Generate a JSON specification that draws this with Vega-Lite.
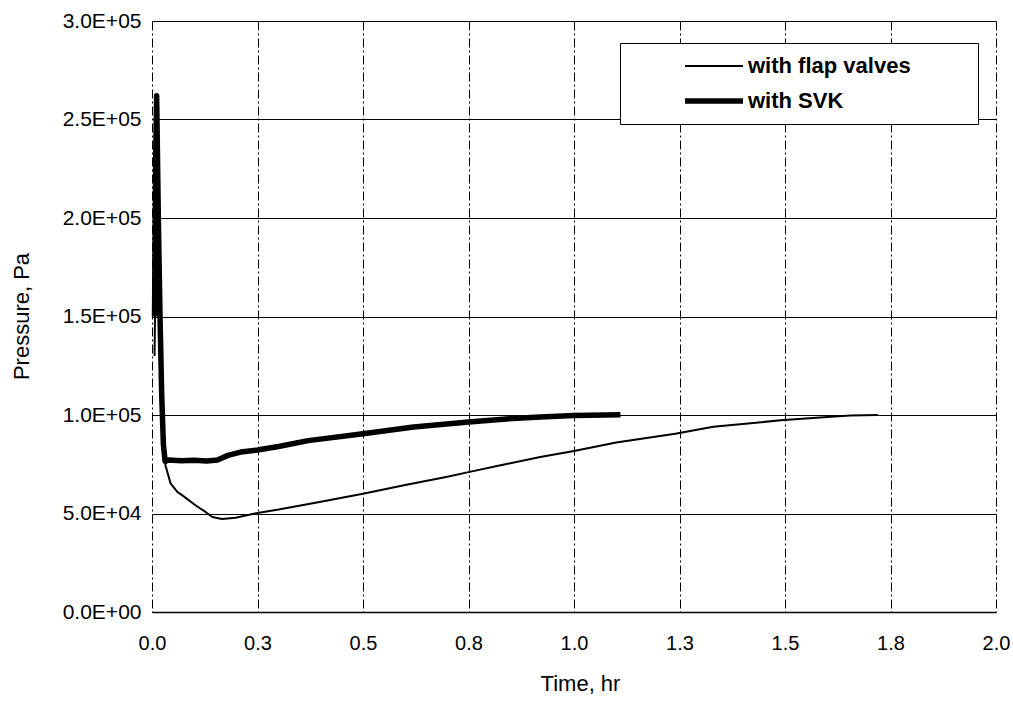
{
  "$schema": "https://vega.github.io/schema/vega-lite/v6.json",
  "width": 844,
  "height": 591,
  "autosize": {"type": "none"},
  "padding": {"left": 152, "top": 21, "right": 17, "bottom": 89},
  "background": "white",
  "config": {
    "view": {"stroke": null},
    "font": "Liberation Sans",
    "axis": {"labelFont": "Liberation Sans", "titleFont": "Liberation Sans", "labelColor": "black", "titleColor": "black", "titleFontWeight": "normal"}
  },
  "data": {
    "values": [
      {"series": "with SVK", "t": 0.006, "p": 150000},
      {"series": "with SVK", "t": 0.009, "p": 235000},
      {"series": "with SVK", "t": 0.011, "p": 262000},
      {"series": "with SVK", "t": 0.015, "p": 200000},
      {"series": "with SVK", "t": 0.019, "p": 150000},
      {"series": "with SVK", "t": 0.023, "p": 110000},
      {"series": "with SVK", "t": 0.027, "p": 85000},
      {"series": "with SVK", "t": 0.031, "p": 76500},
      {"series": "with SVK", "t": 0.04, "p": 77200},
      {"series": "with SVK", "t": 0.07, "p": 76800},
      {"series": "with SVK", "t": 0.1, "p": 77000},
      {"series": "with SVK", "t": 0.13, "p": 76700},
      {"series": "with SVK", "t": 0.155, "p": 77200},
      {"series": "with SVK", "t": 0.18, "p": 79500},
      {"series": "with SVK", "t": 0.21, "p": 81200},
      {"series": "with SVK", "t": 0.25, "p": 82200},
      {"series": "with SVK", "t": 0.3, "p": 84000},
      {"series": "with SVK", "t": 0.37, "p": 87000},
      {"series": "with SVK", "t": 0.5, "p": 90500},
      {"series": "with SVK", "t": 0.62, "p": 93900},
      {"series": "with SVK", "t": 0.75, "p": 96400},
      {"series": "with SVK", "t": 0.84, "p": 98000},
      {"series": "with SVK", "t": 0.92, "p": 99000},
      {"series": "with SVK", "t": 1.0, "p": 99700},
      {"series": "with SVK", "t": 1.11, "p": 100100},
      {"series": "with flap valves", "t": 0.006, "p": 130000},
      {"series": "with flap valves", "t": 0.01, "p": 200000},
      {"series": "with flap valves", "t": 0.013, "p": 215000},
      {"series": "with flap valves", "t": 0.018, "p": 150000},
      {"series": "with flap valves", "t": 0.023, "p": 100000},
      {"series": "with flap valves", "t": 0.028, "p": 80000},
      {"series": "with flap valves", "t": 0.032, "p": 74400},
      {"series": "with flap valves", "t": 0.044, "p": 65300},
      {"series": "with flap valves", "t": 0.06, "p": 61000},
      {"series": "with flap valves", "t": 0.072, "p": 59200},
      {"series": "with flap valves", "t": 0.103, "p": 54200},
      {"series": "with flap valves", "t": 0.127, "p": 50800},
      {"series": "with flap valves", "t": 0.143, "p": 48200},
      {"series": "with flap valves", "t": 0.166, "p": 47200},
      {"series": "with flap valves", "t": 0.198, "p": 47800},
      {"series": "with flap valves", "t": 0.25, "p": 50300},
      {"series": "with flap valves", "t": 0.3, "p": 52000},
      {"series": "with flap valves", "t": 0.4, "p": 56000},
      {"series": "with flap valves", "t": 0.5, "p": 60000},
      {"series": "with flap valves", "t": 0.6, "p": 64500},
      {"series": "with flap valves", "t": 0.7, "p": 68700},
      {"series": "with flap valves", "t": 0.75, "p": 71000},
      {"series": "with flap valves", "t": 0.826, "p": 74500},
      {"series": "with flap valves", "t": 0.92, "p": 78700},
      {"series": "with flap valves", "t": 1.0, "p": 81700},
      {"series": "with flap valves", "t": 1.1, "p": 86000},
      {"series": "with flap valves", "t": 1.24, "p": 90500},
      {"series": "with flap valves", "t": 1.33, "p": 94000},
      {"series": "with flap valves", "t": 1.49, "p": 97300},
      {"series": "with flap valves", "t": 1.6, "p": 99000},
      {"series": "with flap valves", "t": 1.655, "p": 99800},
      {"series": "with flap valves", "t": 1.72, "p": 100000}
    ]
  },
  "mark": {"type": "line", "color": "black", "strokeJoin": "round"},
  "encoding": {
    "x": {
      "field": "t", "type": "quantitative",
      "scale": {"domain": [0, 2], "nice": false, "zero": false},
      "axis": {
        "title": "Time, hr",
        "titleFontSize": 22,
        "titleBaseline": "alphabetic",
        "titleY": 78,
        "titleX": 428,
        "values": [0, 0.25, 0.5, 0.75, 1, 1.25, 1.5, 1.75, 2],
        "labelExpr": "format(datum.value, '.1f')",
        "labelFontSize": 20,
        "labelPadding": 21,
        "ticks": false,
        "domain": true,
        "domainColor": "black",
        "domainWidth": 1.5,
        "grid": true,
        "gridColor": "black",
        "gridOpacity": 1,
        "gridWidth": 1,
        "gridDash": [9, 3, 2, 3],
        "labelFlush": false
      }
    },
    "y": {
      "field": "p", "type": "quantitative",
      "scale": {"domain": [0, 300000], "nice": false},
      "axis": {
        "title": "Pressure, Pa",
        "titleFontSize": 22,
        "titleBaseline": "alphabetic",
        "titleAngle": -90,
        "titleX": -124,
        "titleY": 295,
        "values": [0, 50000, 100000, 150000, 200000, 250000, 300000],
        "labelExpr": "datum.value == 0 ? '0.0E+00' : datum.value < 100000 ? format(datum.value / 10000, '.1f') + 'E+04' : format(datum.value / 100000, '.1f') + 'E+05'",
        "labelFontSize": 21,
        "labelPadding": 11,
        "ticks": false,
        "domain": false,
        "grid": true,
        "gridColor": "black",
        "gridOpacity": 1,
        "gridWidth": 1.2,
        "labelFlush": false
      }
    },
    "strokeWidth": {
      "field": "series", "type": "nominal",
      "scale": {"domain": ["with flap valves", "with SVK"], "range": [2, 5.5]},
      "legend": {
        "title": "\u00a0",
        "titleOrient": "right",
        "titlePadding": 55,
        "titleFontSize": 20,
        "orient": "none",
        "legendX": 468,
        "legendY": 22,
        "direction": "vertical",
        "symbolType": "stroke",
        "symbolSize": 3364,
        "symbolStrokeColor": "black",
        "symbolOffset": 50,
        "clipHeight": 22,
        "labelOffset": 2,
        "labelFont": "Liberation Sans",
        "labelFontSize": 22,
        "labelFontWeight": "bold",
        "labelColor": "black",
        "labelLimit": 400,
        "rowPadding": 13,
        "padding": 12,
        "strokeColor": "black",
        "fillColor": "white"
      }
    }
  }
}
